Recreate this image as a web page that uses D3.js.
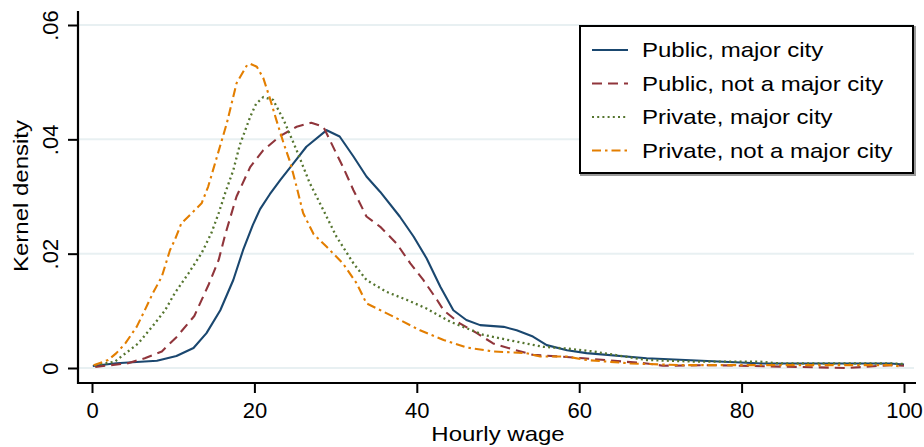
<!DOCTYPE html>
<html>
<head>
<meta charset="utf-8">
<script src="https://cdn.jsdelivr.net/npm/d3@7"></script>
<style>
  html, body { margin: 0; padding: 0; background: #fff; }
  svg { display: block; }
  text { font-family: "Liberation Sans", Arial, Helvetica, sans-serif; fill: #000; }
</style>
</head>
<body>
<svg id="chart" width="924" height="447"></svg>
<script>
// ---- Data ----
const seriesNames = ["Public, major city", "Public, not a major city", "Private, major city", "Private, not a major city"];

const wagePublicMajor = [0.1, 3.0, 8.0, 10.4, 12.5, 14.1, 15.8, 17.4, 18.6, 19.8, 20.7, 21.9, 23.2, 24.8, 26.4, 28.9, 30.5, 32.2, 33.8, 35.5, 37.9, 39.6, 41.2, 42.9, 44.5, 46.1, 47.8, 50.7, 52.3, 54.3, 56.0, 58.5, 60.9, 68.3, 82.6, 98.3, 100];
const densPublicMajor = [0.00035, 0.00082, 0.00128, 0.0021, 0.0035, 0.0061, 0.0101, 0.0154, 0.0206, 0.0250, 0.0278, 0.0304, 0.0329, 0.0358, 0.0387, 0.0416, 0.0405, 0.0370, 0.0335, 0.0308, 0.0265, 0.0230, 0.0192, 0.0142, 0.0101, 0.0084, 0.0075, 0.0072, 0.0066, 0.0055, 0.0040, 0.0031, 0.0026, 0.0017, 0.0008, 0.0008, 0.0006];

const wagePublicOther = [0.4, 4.3, 6.5, 8.6, 10.4, 12.6, 14.4, 15.6, 16.4, 17.8, 19.5, 21.1, 23.2, 25.2, 27.0, 28.5, 30.1, 30.9, 32.2, 33.8, 35.5, 37.5, 39.2, 40.8, 42.5, 43.3, 45.3, 47.4, 49.4, 51.5, 54.3, 57.6, 60.5, 68.3, 70.3, 76.5, 93.0, 98.3, 100];
const densPublicOther = [0.0002, 0.0008, 0.0017, 0.0029, 0.0054, 0.0091, 0.0147, 0.0189, 0.0233, 0.0300, 0.0352, 0.0381, 0.0406, 0.0422, 0.0429, 0.0422, 0.0375, 0.0352, 0.0311, 0.0265, 0.0247, 0.0218, 0.0183, 0.0154, 0.0119, 0.0101, 0.0078, 0.0061, 0.0043, 0.0034, 0.0023, 0.0020, 0.0017, 0.0008, 0.0004, 0.0005, 0.0000, 0.0005, 0.0004];

const wagePrivateMajor = [0.4, 2.8, 5.7, 7.4, 9.0, 10.2, 11.9, 13.5, 14.7, 15.6, 16.4, 17.4, 18.2, 19.5, 20.2, 21.1, 22.3, 23.6, 25.2, 26.8, 28.5, 30.1, 32.2, 33.8, 36.3, 38.8, 41.2, 44.1, 48.2, 52.3, 55.6, 58.5, 61.7, 68.3, 74.5, 82.3, 84.7, 98.3, 100];
const densPrivateMajor = [0.0005, 0.0011, 0.0043, 0.0072, 0.0101, 0.0131, 0.0166, 0.0201, 0.0236, 0.0271, 0.0306, 0.0346, 0.0390, 0.0440, 0.0462, 0.0474, 0.0469, 0.0434, 0.0381, 0.0324, 0.0276, 0.0230, 0.0183, 0.0154, 0.0133, 0.0119, 0.0104, 0.0081, 0.0058, 0.0046, 0.0037, 0.0034, 0.0029, 0.0014, 0.0011, 0.0011, 0.0008, 0.0008, 0.0007];

const wagePrivateOther = [0.2, 2.0, 3.0, 4.1, 5.5, 6.5, 7.5, 8.6, 9.6, 10.2, 11.0, 12.3, 13.5, 14.3, 15.4, 16.6, 17.8, 19.1, 19.5, 20.3, 21.1, 21.9, 22.7, 23.6, 24.4, 25.2, 26.0, 27.3, 28.9, 30.9, 32.6, 33.8, 37.1, 40.4, 43.3, 46.1, 49.4, 53.5, 55.2, 58.5, 60.9, 66.3, 72.5, 82.6, 98.3, 99.5];
const densPrivateOther = [0.0005, 0.0014, 0.0026, 0.0043, 0.0072, 0.0101, 0.0131, 0.0160, 0.0206, 0.0224, 0.0253, 0.0271, 0.0288, 0.0317, 0.0370, 0.0428, 0.0498, 0.0530, 0.0532, 0.0527, 0.0507, 0.0472, 0.0434, 0.0393, 0.0360, 0.0317, 0.0271, 0.0234, 0.0212, 0.0183, 0.0148, 0.0113, 0.0090, 0.0066, 0.0049, 0.0036, 0.0029, 0.0026, 0.0020, 0.0020, 0.0014, 0.0008, 0.0005, 0.0005, 0.0005, 0.0003];

const xTicks = [0, 20, 40, 60, 80, 100];
const xTickLabels = ["0", "20", "40", "60", "80", "100"];
const yTicks = [0, 0.02, 0.04, 0.06];
const yTickLabels = ["0", ".02", ".04", ".06"];
const xTitle = "Hourly wage";
const yTitle = "Kernel density";

// ---- Styles ----
const colors = ["#1a476f", "#90353b", "#55752f", "#e37e00"];
const dashes = [null, "10,6", "2,3.2", "9,4,2.5,4"];

const series = [
  {name: seriesNames[0], x: wagePublicMajor, y: densPublicMajor},
  {name: seriesNames[1], x: wagePublicOther, y: densPublicOther},
  {name: seriesNames[2], x: wagePrivateMajor, y: densPrivateMajor},
  {name: seriesNames[3], x: wagePrivateOther, y: densPrivateOther}
];

const svg = d3.select("#chart");
const x = d3.scaleLinear().domain([0, 100]).range([92, 904]);
const y = d3.scaleLinear().domain([0, 0.06]).range([368, 25]);

const axisX0 = 78, axisY0 = 383;

// grid lines
svg.append("g").selectAll("line").data(yTicks).join("line")
  .attr("x1", axisX0 + 1).attr("x2", 914)
  .attr("y1", d => y(d)).attr("y2", d => y(d))
  .attr("stroke", "#e8f0f2").attr("stroke-width", 2);

// curves
const line = d3.line().x(d => x(d[0])).y(d => y(d[1])).curve(d3.curveLinear);
series.forEach((s, i) => {
  const pts = s.x.map((v, j) => [v, s.y[j]]);
  svg.append("path").datum(pts)
    .attr("d", line)
    .attr("fill", "none")
    .attr("stroke", colors[i])
    .attr("stroke-width", i === 2 ? 2.3 : 2.1)
    .attr("stroke-dasharray", dashes[i])
    .attr("stroke-linejoin", "round");
});

// axes
const yAxis = d3.axisLeft(y).tickValues(yTicks).tickFormat((d, i) => yTickLabels[i]).tickSize(10).tickSizeOuter(0);
const gy = svg.append("g").attr("transform", `translate(${axisX0},0)`).call(yAxis);
gy.select(".domain").remove();
gy.selectAll(".tick line").attr("stroke", "#000").attr("stroke-width", 2);
gy.selectAll(".tick text")
  .attr("font-size", 22)
  .attr("text-anchor", "middle")
  .attr("dy", 0).attr("x", 0)
  .attr("transform", "translate(-20,0) rotate(-90)");

svg.append("line").attr("x1", axisX0).attr("x2", axisX0).attr("y1", 11).attr("y2", axisY0 + 1)
  .attr("stroke", "#000").attr("stroke-width", 2.2);

const xAxis = d3.axisBottom(x).tickValues(xTicks).tickFormat((d, i) => xTickLabels[i]).tickSize(10).tickSizeOuter(0);
const gx = svg.append("g").attr("transform", `translate(0,${axisY0})`).call(xAxis);
gx.select(".domain").remove();
gx.selectAll(".tick line").attr("stroke", "#000").attr("stroke-width", 2);
gx.selectAll(".tick text").attr("font-size", 22).attr("dy", 0).attr("y", 35);

svg.append("line").attr("x1", axisX0 - 1).attr("x2", 916).attr("y1", axisY0).attr("y2", axisY0)
  .attr("stroke", "#000").attr("stroke-width", 2.2);

// titles
svg.append("text").attr("x", 0).attr("y", 0)
  .attr("transform", `translate(498,441) scale(1.2,1)`)
  .attr("text-anchor", "middle").attr("font-size", 20).text(xTitle);
svg.append("text").attr("x", 0).attr("y", 0)
  .attr("transform", `translate(28,196) rotate(-90) scale(1.2,1)`)
  .attr("text-anchor", "middle").attr("font-size", 20).text(yTitle);

// legend
const lg = svg.append("g");
lg.append("rect").attr("x", 581).attr("y", 27).attr("width", 334).attr("height", 148)
  .attr("fill", "none").attr("stroke", "#9a9a9a").attr("stroke-width", 2);
lg.append("rect").attr("x", 580).attr("y", 26).attr("width", 333).attr("height", 147)
  .attr("fill", "#fff").attr("stroke", "#000").attr("stroke-width", 2);
const rowY = [50, 83.5, 117, 150.5];
series.forEach((s, i) => {
  lg.append("line").attr("x1", 592).attr("x2", 628).attr("y1", rowY[i]).attr("y2", rowY[i])
    .attr("stroke", colors[i]).attr("stroke-width", 2).attr("stroke-dasharray", dashes[i]);
  lg.append("text").attr("x", 0).attr("y", 0)
    .attr("transform", `translate(642,${rowY[i] + 7}) scale(1.2,1)`)
    .attr("font-size", 20).text(s.name);
});
</script>
</body>
</html>
